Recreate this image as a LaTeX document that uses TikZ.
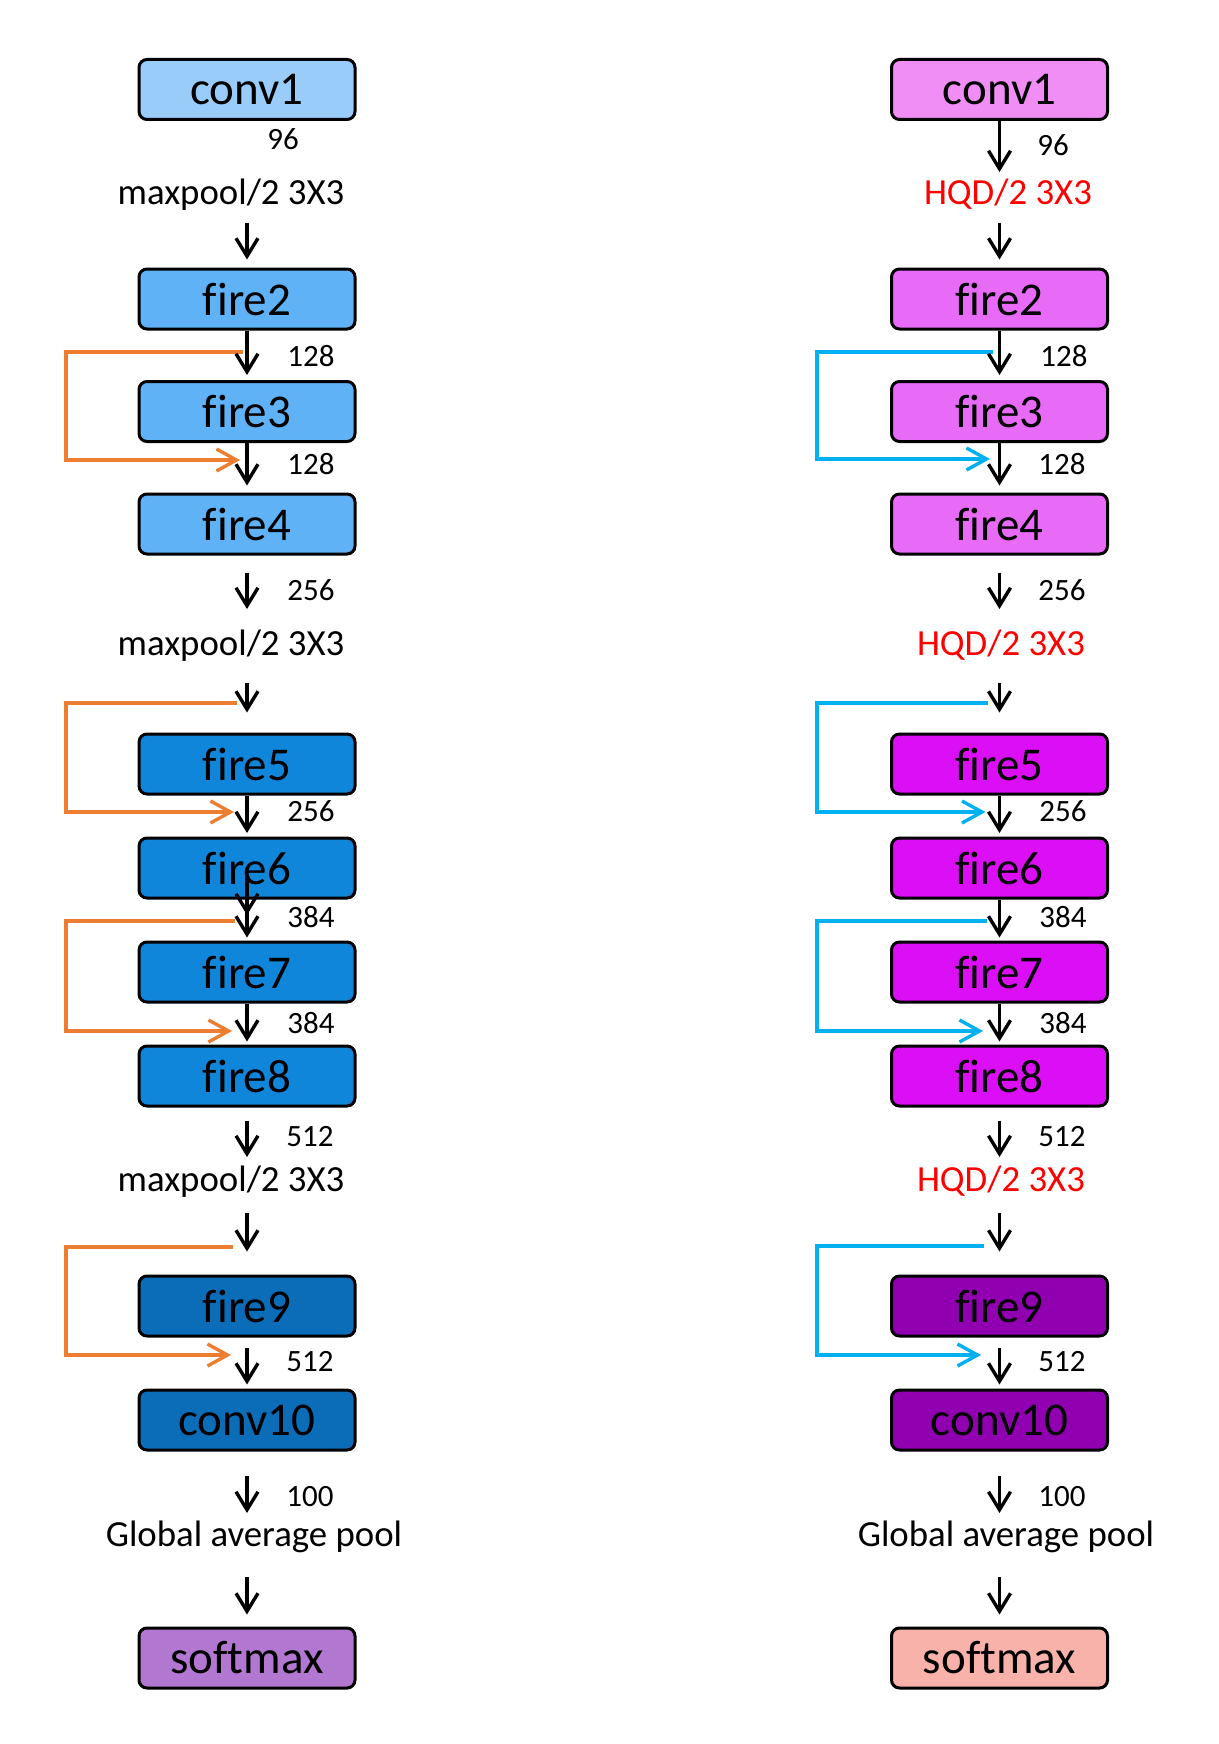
\documentclass[tikz,border=0pt]{standalone}
\usepackage{fontspec}
\setmainfont{Carlito}[Ligatures=NoCommon]
\usetikzlibrary{arrows.meta}
\tikzset{>={Straight Barb[length=9pt,width=11pt]}}

\definecolor{blueA}{RGB}{153,204,248}
\definecolor{blueB}{RGB}{94,178,245}
\definecolor{blueC}{RGB}{16,134,218}
\definecolor{blueD}{RGB}{11,108,183}
\definecolor{lilac}{RGB}{178,119,208}
\definecolor{pinkA}{RGB}{240,142,245}
\definecolor{pinkB}{RGB}{232,107,248}
\definecolor{pinkC}{RGB}{219,14,245}
\definecolor{pinkD}{RGB}{145,0,176}
\definecolor{salmon}{RGB}{249,178,170}
\definecolor{skiporange}{RGB}{237,125,49}
\definecolor{skipblue}{RGB}{0,176,240}
\definecolor{hqdred}{RGB}{255,0,0}

\tikzset{
  layer/.style={draw, line width=1.5pt, rounded corners=4pt, minimum width=108pt,
    minimum height=30pt, inner sep=0pt, font=\fontsize{23.5}{25}\selectfont},
  op/.style={inner sep=0pt, text height=12.9pt, text depth=3.7pt, font=\fontsize{18.4}{20}\selectfont},
  ch/.style={inner sep=0pt, text height=9.8pt, text depth=0pt, font=\fontsize{15.5}{17}\selectfont},
  flow/.style={->, line width=1.7pt},
  skip/.style={->, line width=1.7pt, >={Straight Barb[length=10pt,width=11pt]}}
}

\begin{document}
\begin{tikzpicture}[x=0.5pt,y=-0.5pt]
\useasboundingbox (0,0) rectangle (1219,1744);

% left column: SqueezeNet with maxpool
\node (Lconv1) [layer, fill=blueA] at (247,89.5) {conv1};
\node (Ln96) [ch] at (283,140) {96};
\node (Lmp1) [op] at (231,195) {maxpool/2 3X3};
\node (Lfire2) [layer, fill=blueB] at (247,299) {fire2};
\node (Ln128a) [ch] at (311,356.5) {128};
\node (Lfire3) [layer, fill=blueB] at (247,411.5) {fire3};
\node (Ln128b) [ch] at (311,465) {128};
\node (Lfire4) [layer, fill=blueB] at (247,524) {fire4};
\node (Ln256a) [ch] at (311,590.5) {256};
\node (Lmp2) [op] at (231,646) {maxpool/2 3X3};
\node (Lfire5) [layer, fill=blueC] at (247,764) {fire5};
\node (Ln256b) [ch] at (311,812) {256};
\node (Lfire6) [layer, fill=blueC] at (247,868) {fire6};
\node (Ln384a) [ch] at (311,918) {384};
\node (Lfire7) [layer, fill=blueC] at (247,972) {fire7};
\node (Ln384b) [ch] at (311,1024) {384};
\node (Lfire8) [layer, fill=blueC] at (247,1076) {fire8};
\node (Ln512a) [ch] at (310,1137) {512};
\node (Lmp3) [op] at (231,1182) {maxpool/2 3X3};
\node (Lfire9) [layer, fill=blueD] at (247,1306) {fire9};
\node (Ln512b) [ch] at (310,1362) {512};
\node (Lconv10) [layer, fill=blueD] at (247,1420) {conv10};
\node (Ln100) [ch] at (310,1497) {100};
\node (Lgap) [op] at (254,1537) {Global average pool};
\node (Lsoftmax) [layer, fill=lilac] at (247,1658) {softmax};

\coordinate (Lt1) at (247,223);
\coordinate (Lh4) at (247,609);
\coordinate (Lt5) at (247,683);
\coordinate (Lg6) at (247,915);
\coordinate (Lh8) at (247,1157);
\coordinate (Lt9) at (247,1213);
\coordinate (Lh10) at (247,1513);
\coordinate (Lt11) at (247,1577);
\coordinate (Lrail) at (66,0);
\coordinate (Ls1) at (243,352);  \coordinate (Le1) at (240,460);
\coordinate (Ls2) at (237,703);  \coordinate (Le2) at (234,812);
\coordinate (Ls3) at (235,921);  \coordinate (Le3) at (232,1031);
\coordinate (Ls4) at (233,1247); \coordinate (Le4) at (231,1355);

\draw [skip, skiporange] (Ls1) -- (Ls1 -| Lrail) |- (Le1);
\draw [skip, skiporange] (Ls2) -- (Ls2 -| Lrail) |- (Le2);
\draw [skip, skiporange] (Ls3) -- (Ls3 -| Lrail) |- (Le3);
\draw [skip, skiporange] (Ls4) -- (Ls4 -| Lrail) |- (Le4);

\draw [flow, shorten >=4pt] (Lt1) -- (Lfire2);
\draw [flow, shorten >=2.5pt] (Lfire2) -- (Lfire3);
\draw [flow, shorten >=3.5pt] (Lfire3) -- (Lfire4);
\draw [flow, shorten <=8.5pt] (Lfire4) -- (Lh4);
\draw [flow, shorten >=10pt] (Lt5) -- (Lfire5);
\draw [flow, shorten >=1.75pt] (Lfire5) -- (Lfire6);
\draw [flow, shorten <=4.5pt] (Lfire6.center) -- (Lg6);
\draw [flow, shorten >=1.5pt] (Lfire6) -- (Lfire7);
\draw [flow, shorten >=1.5pt] (Lfire7) -- (Lfire8);
\draw [flow, shorten <=6.5pt] (Lfire8) -- (Lh8);
\draw [flow, shorten >=11.5pt] (Lt9) -- (Lfire9);
\draw [flow, shorten <=5pt, shorten >=2pt] (Lfire9) -- (Lconv10);
\draw [flow, shorten <=12pt] (Lconv10) -- (Lh10);
\draw [flow, shorten >=6pt] (Lt11) -- (Lsoftmax);

% right column: with HQD pooling
\node (Rconv1) [layer, fill=pinkA] at (999.5,89.5) {conv1};
\node (Rn96) [ch] at (1053,146) {96};
\node (Rhqd1) [op, text=hqdred] at (1008,195) {HQD/2 3X3};
\node (Rfire2) [layer, fill=pinkB] at (999.5,299) {fire2};
\node (Rn128a) [ch] at (1064,356.5) {128};
\node (Rfire3) [layer, fill=pinkB] at (999.5,411.5) {fire3};
\node (Rn128b) [ch] at (1062,465) {128};
\node (Rfire4) [layer, fill=pinkB] at (999.5,524) {fire4};
\node (Rn256a) [ch] at (1062,590.5) {256};
\node (Rhqd2) [op, text=hqdred] at (1001,646) {HQD/2 3X3};
\node (Rfire5) [layer, fill=pinkC] at (999.5,764) {fire5};
\node (Rn256b) [ch] at (1063,812) {256};
\node (Rfire6) [layer, fill=pinkC] at (999.5,868) {fire6};
\node (Rn384a) [ch] at (1063,918) {384};
\node (Rfire7) [layer, fill=pinkC] at (999.5,972) {fire7};
\node (Rn384b) [ch] at (1063,1024) {384};
\node (Rfire8) [layer, fill=pinkC] at (999.5,1076) {fire8};
\node (Rn512a) [ch] at (1062,1137) {512};
\node (Rhqd3) [op, text=hqdred] at (1001,1182) {HQD/2 3X3};
\node (Rfire9) [layer, fill=pinkD] at (999.5,1306) {fire9};
\node (Rn512b) [ch] at (1062,1362) {512};
\node (Rconv10) [layer, fill=pinkD] at (999.5,1420) {conv10};
\node (Rn100) [ch] at (1062,1497) {100};
\node (Rgap) [op] at (1006,1537) {Global average pool};
\node (Rsoftmax) [layer, fill=salmon] at (999.5,1658) {softmax};

\coordinate (Rh1) at (999.5,172);
\coordinate (Rt1) at (999.5,223);
\coordinate (Rh4) at (999.5,609);
\coordinate (Rt5) at (999.5,683);
\coordinate (Rh8) at (999.5,1157);
\coordinate (Rt9) at (999.5,1213);
\coordinate (Rh10) at (999.5,1513);
\coordinate (Rt11) at (999.5,1577);
\coordinate (Rrail) at (817,0);
\coordinate (Rs1) at (993,352);  \coordinate (Re1) at (990,459);
\coordinate (Rs2) at (988,703);  \coordinate (Re2) at (985.5,812);
\coordinate (Rs3) at (987,921);  \coordinate (Re3) at (983,1031);
\coordinate (Rs4) at (984,1246); \coordinate (Re4) at (981,1355);

\draw [skip, skipblue] (Rs1) -- (Rs1 -| Rrail) |- (Re1);
\draw [skip, skipblue] (Rs2) -- (Rs2 -| Rrail) |- (Re2);
\draw [skip, skipblue] (Rs3) -- (Rs3 -| Rrail) |- (Re3);
\draw [skip, skipblue] (Rs4) -- (Rs4 -| Rrail) |- (Re4);

\draw [flow] (Rconv1) -- (Rh1);
\draw [flow, shorten >=4pt] (Rt1) -- (Rfire2);
\draw [flow, shorten >=2.5pt] (Rfire2) -- (Rfire3);
\draw [flow, shorten >=3.5pt] (Rfire3) -- (Rfire4);
\draw [flow, shorten <=8.5pt] (Rfire4) -- (Rh4);
\draw [flow, shorten >=10pt] (Rt5) -- (Rfire5);
\draw [flow, shorten >=1.75pt] (Rfire5) -- (Rfire6);
\draw [flow, shorten >=1.5pt] (Rfire6) -- (Rfire7);
\draw [flow, shorten >=1.5pt] (Rfire7) -- (Rfire8);
\draw [flow, shorten <=6.5pt] (Rfire8) -- (Rh8);
\draw [flow, shorten >=11.5pt] (Rt9) -- (Rfire9);
\draw [flow, shorten <=5pt, shorten >=2pt] (Rfire9) -- (Rconv10);
\draw [flow, shorten <=12pt] (Rconv10) -- (Rh10);
\draw [flow, shorten >=6pt] (Rt11) -- (Rsoftmax);
\end{tikzpicture}
\end{document}
